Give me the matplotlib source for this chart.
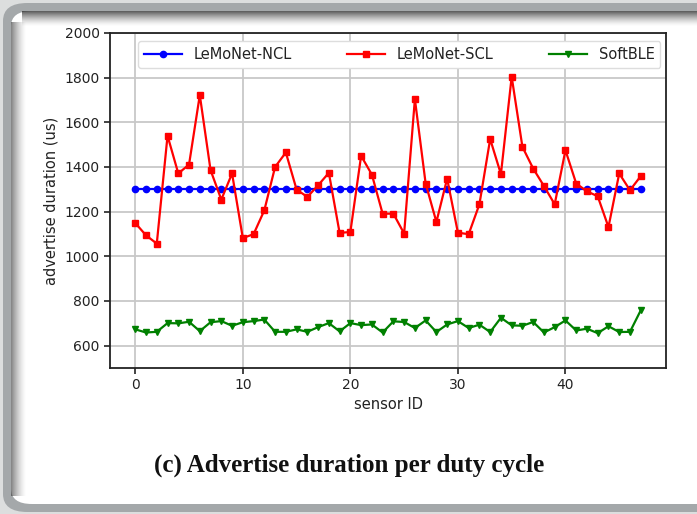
import numpy as np
import matplotlib
matplotlib.use("Agg")
import matplotlib.pyplot as plt
from matplotlib.patches import FancyBboxPatch

sensor_ids = list(range(48))
ncl = [1300] * 48
scl = [1149, 1094, 1057, 1540, 1371, 1411, 1722, 1386, 1254, 1371,
       1082, 1099, 1206, 1400, 1465, 1299, 1266, 1318, 1374, 1105,
       1109, 1450, 1366, 1191, 1191, 1102, 1704, 1326, 1154, 1348,
       1106, 1099, 1233, 1525, 1368, 1804, 1490, 1393, 1315, 1233,
       1475, 1326, 1291, 1269, 1131, 1371, 1296, 1359]
softble = [673, 659, 662, 701, 700, 707, 665, 705, 710, 689,
           705, 710, 717, 662, 662, 673, 662, 683, 701, 664,
           701, 692, 695, 659, 709, 706, 679, 713, 661, 695,
           710, 679, 694, 661, 725, 691, 689, 706, 659, 683,
           713, 668, 676, 656, 687, 661, 662, 758]
series_labels = ["LeMoNet-NCL", "LeMoNet-SCL", "SoftBLE"]
xticks = [0, 10, 20, 30, 40]
yticks = [600, 800, 1000, 1200, 1400, 1600, 1800, 2000]

W, H = 697, 514
fig = plt.figure(figsize=(W / 100, H / 100), dpi=100, facecolor="#dcdede")

def fx(px):
    return px / W

def fy(py):
    return 1 - py / H

# outer gray ring and white panel
ring = FancyBboxPatch((fx(3), fy(512)), fx(760) - fx(3), fy(3) - fy(512),
                      boxstyle="round,pad=0,rounding_size=0.035",
                      transform=fig.transFigure, facecolor="#a4a8aa",
                      edgecolor="none", zorder=0)
fig.patches.append(ring)
panel = FancyBboxPatch((fx(11), fy(504)), fx(760) - fx(11), fy(11) - fy(504),
                       boxstyle="round,pad=0,rounding_size=0.03",
                       transform=fig.transFigure, facecolor="white",
                       edgecolor="none", zorder=0)
fig.patches.append(panel)

# inner shadow on top and left
depth = 16
alpha = np.linspace(0.85, 0.0, depth) ** 1.5
top = np.zeros((depth, W - 22, 4))
top[..., :3] = 0.2
top[..., 3] = alpha[:, None]
fig.figimage(top, xo=22, yo=H - 11 - depth, origin="upper", zorder=1)
left = np.zeros((H - 40, depth, 4))
left[..., :3] = 0.25
left[..., 3] = (alpha[None, :] * 0.8)
fig.figimage(left, xo=11, yo=18, origin="upper", zorder=1)

ax = fig.add_axes([fx(110), fy(368), fx(666) - fx(110), fy(33) - fy(368)])
ax.set_facecolor("white")
ax.set_zorder(2)

ax.plot(sensor_ids, ncl, color="#0000ff", marker="o", markersize=4.5, lw=1.6, label=series_labels[0])
ax.plot(sensor_ids, scl, color="#ff0000", marker="s", markersize=4.5, lw=1.6, label=series_labels[1])
ax.plot(sensor_ids, softble, color="#008000", marker="v", markersize=4.5, lw=1.6, label=series_labels[2])

ax.set_ylim(500, 2000)
ax.set_xticks(xticks)
ax.set_yticks(yticks)
ax.grid(True, color="#c8c8c8", lw=1.3)
ax.set_axisbelow(True)
for s in ax.spines.values():
    s.set_color("#222222")
    s.set_linewidth(1.3)
ax.tick_params(axis="both", labelsize=10, colors="#222222", length=4, width=1.2)
ax.set_xlabel("sensor ID", fontsize=10.5, color="#222222", labelpad=3)
ax.set_ylabel("advertise duration (us)", fontsize=10.5, color="#222222", labelpad=4)

leg = ax.legend(loc="upper left", bbox_to_anchor=(0.05, 0.975, 0.94, 0.0), mode="expand",
                ncol=3, fontsize=10.5, frameon=True, borderaxespad=0, handlelength=2.6,
                fancybox=True, framealpha=1.0, edgecolor="#dddddd")
for t in leg.get_texts():
    t.set_color("#222222")

fig.text(fx(349), fy(465), "(c) Advertise duration per duty cycle", ha="center", va="center",
         fontsize=18, fontweight="bold", family="Liberation Serif", color="#111111")

fig.savefig("out.png", dpi=100, facecolor=fig.get_facecolor())
